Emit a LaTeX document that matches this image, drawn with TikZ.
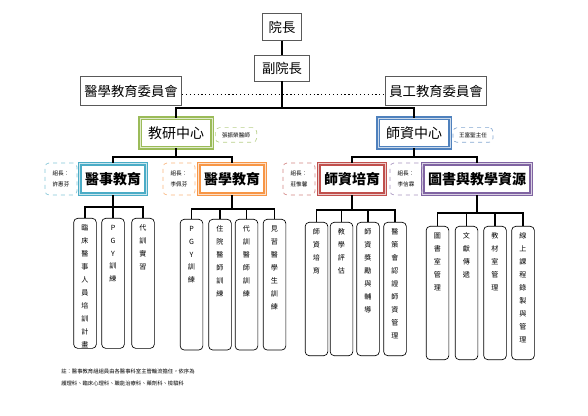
\documentclass[tikz,border=0pt]{standalone}
\usepackage{fontspec}
\setmainfont{Noto Sans CJK TC}
\usetikzlibrary{positioning}

\definecolor{cgreen}{HTML}{9BBB59}
\definecolor{cblue}{HTML}{4F81BD}
\definecolor{cteal}{HTML}{4BACC6}
\definecolor{corange}{HTML}{F79646}
\definecolor{cred}{HTML}{C0504D}
\definecolor{cpurple}{HTML}{8064A2}

\newcommand\leaf[2]{\parbox[c][#1][t]{17pt}{\centering\vspace{5pt}#2}}

\begin{document}
\begin{tikzpicture}[x=0.75pt,y=-0.75pt,
        plain/.style={draw=black!65,line width=0.6pt,inner sep=2pt,font=\fontsize{10}{12}\selectfont},
        hub/.style={draw=#1,line width=1.1pt,double=#1!30,double distance=0.7pt,minimum width=54pt,minimum height=22pt,font=\fontsize{10.5}{12}\selectfont},
        dept/.style={draw=#1,line width=1.1pt,double=#1!30,double distance=0.7pt,minimum height=23pt,inner xsep=4pt,font=\fontsize{10.5}{12}\selectfont\bfseries},
        memo/.style={draw=#1!70,dashed,rounded corners=3pt,line width=0.5pt,minimum width=24pt,minimum height=24pt,align=center,inner sep=1pt,font=\fontsize{4.2}{8}\selectfont},
        leaf/.style={draw,rounded corners=3pt,line width=0.5pt,inner sep=0pt,anchor=north,font=\fontsize{5.3}{9.7}\selectfont},
        link/.style={line width=1.2pt}]
    \useasboundingbox (0,0) rectangle (588,416);

    % Level 0
    \node[plain,minimum width=29pt,minimum height=20pt] (pres) at (282,27) {院長};
    \node[plain,minimum width=41pt,minimum height=19.5pt] (vp) at (282,68) {副院長};

    % Committees
    \node[plain,minimum width=76pt,minimum height=22pt] (mec) at (131,91) {醫學教育委員會};
    \node[plain,minimum width=76pt,minimum height=22pt] (sec) at (436,91) {員工教育委員會};

    % Level 1
    \node[hub=cgreen] (jy) at (176,133) {教研中心};
    \node[hub=cblue] (sz) at (414,133) {師資中心};
    \node[memo=cgreen,minimum width=31pt,minimum height=11pt] (jymemo) at (236,135) {張振榮醫師};
    \node[memo=cblue,minimum width=30pt,minimum height=11pt] (szmemo) at (473,135) {王富聖主任};

    % Level 2
    \node[dept=cteal,minimum width=49pt] (mse) at (113,179) {醫事教育};
    \node[dept=corange,minimum width=46pt] (mme) at (232,179) {醫學教育};
    \node[dept=cred,minimum width=49pt] (tt) at (352,179) {師資培育};
    \node[dept=cpurple,minimum width=78pt] (lib) at (477,179) {圖書與教學資源};
    \node[memo=cteal] (msememo) at (61,179) {組長：\\許惠芬};
    \node[memo=corange] (mmememo) at (179,179) {組長：\\李佩芬};
    \node[memo=cred] (ttmemo) at (299,179) {組長：\\莊惟馨};
    \node[memo=cpurple] (libmemo) at (406,179) {組長：\\李信霖};

    % Level 3
    \node[leaf] (mse1) at (85,218) {\leaf{97.5pt}{臨\\床\\醫\\事\\人\\員\\培\\訓\\計\\畫}};
    \node[leaf] (mse2) at (113,218) {\leaf{97.5pt}{P\\G\\Y\\訓\\練}};
    \node[leaf] (mse3) at (143,218) {\leaf{97.5pt}{代\\訓\\實\\習}};

    \node[leaf] (mme1) at (191.5,219) {\leaf{98pt}{P\\G\\Y\\訓\\練}};
    \node[leaf] (mme2) at (220,219) {\leaf{98pt}{住\\院\\醫\\師\\訓\\練}};
    \node[leaf] (mme3) at (246.5,219) {\leaf{98pt}{代\\訓\\醫\\師\\訓\\練}};
    \node[leaf] (mme4) at (274.5,219) {\leaf{98pt}{見\\習\\醫\\學\\生\\訓\\練}};

    \node[leaf] (tt1) at (316.5,222) {\leaf{100pt}{師\\資\\培\\育}};
    \node[leaf] (tt2) at (341.5,222) {\leaf{100pt}{教\\學\\評\\估}};
    \node[leaf] (tt3) at (368,222) {\leaf{100pt}{師\\資\\獎\\勵\\與\\輔\\導}};
    \node[leaf] (tt4) at (395,222) {\leaf{100pt}{醫\\策\\會\\認\\證\\師\\資\\管\\理}};

    \node[leaf] (lib1) at (437.5,226) {\leaf{100pt}{圖\\書\\室\\管\\理}};
    \node[leaf] (lib2) at (466.5,226) {\leaf{100pt}{文\\獻\\傳\\遞}};
    \node[leaf] (lib3) at (495,226) {\leaf{100pt}{教\\材\\室\\管\\理}};
    \node[leaf] (lib4) at (523,226) {\leaf{100pt}{線\\上\\課\\程\\錄\\製\\與\\管\\理}};

    % Note
    \node[anchor=west,inner sep=0pt,font=\fontsize{4}{6}\selectfont] (note1) at (61,371) {註：醫事教育組組員由各醫事科室主管輪流擔任，依序為};
    \node[anchor=west,inner sep=0pt,font=\fontsize{4}{6}\selectfont] (note2) at (61,383) {護理科、臨床心理科、職能治療科、藥劑科、檢驗科};

    % Bars
    \coordinate (top) at (282,108);
    \coordinate (jybar) at (176,157);
    \coordinate (szbar) at (414,157);
    \coordinate (msebar) at (113,207);
    \coordinate (mmebar) at (232,209);
    \coordinate (ttbar) at (352,210);
    \coordinate (libbar) at (477,213);

    % Edges
    \draw[link] (pres) -- (vp);
    \draw[link] (vp) -- (top);
    \draw[line width=0.9pt,dotted] ([yshift=-2.5pt]mec.east) -- ([yshift=-2.5pt]sec.west);
    \draw[link] (jy) |- (top) -| (sz);
    \draw[link] (jy) -- (jybar);
    \draw[link] (sz) -- (szbar);
    \draw[link] (mse) |- (jybar) -| (mme);
    \draw[link] (tt) |- (szbar) -| (lib);
    \draw[link] (mse) -- (msebar);
    \draw[link] (mme) -- (mmebar);
    \draw[link] (tt) -- (ttbar);
    \draw[link] (lib) -- (libbar);
    \foreach \i in {1,2,3}
        \draw[link] (msebar) -| (mse\i);
    \foreach \i in {1,...,4} {
        \draw[link] (mmebar) -| (mme\i);
        \draw[link] (ttbar) -| (tt\i);
        \draw[link] (libbar) -| (lib\i);
    }
\end{tikzpicture}
\end{document}
